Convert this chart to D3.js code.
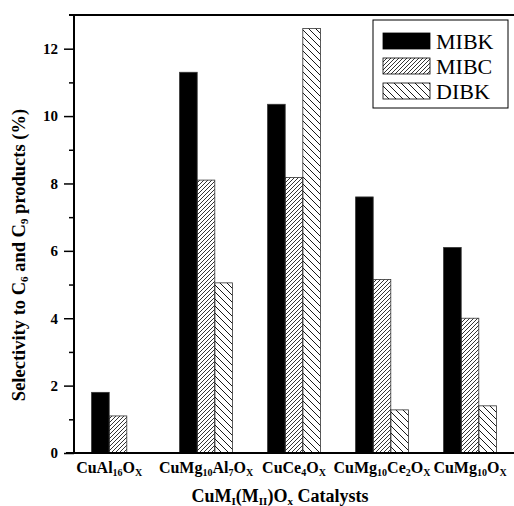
<!DOCTYPE html>
<html lang="en">
<head>
    <meta charset="UTF-8">
    <title>Selectivity to C6 and C9 products</title>
    <script src="https://d3js.org/d3.v7.min.js"></script>
    <style>
        body { margin: 0; background: #fff; }
    </style>
</head>
<body>
    <div id="chart"></div>
    <script>
        // catalysts: [text, kind] pieces for each label
        const catalysts = [
            [["CuAl", ""], ["16", "sub"], ["O", ""], ["X", "sub"]],
            [["CuMg", ""], ["10", "sub"], ["Al", ""], ["7", "sub"], ["O", ""], ["X", "sub"]],
            [["CuCe", ""], ["4", "sub"], ["O", ""], ["X", "sub"]],
            [["CuMg", ""], ["10", "sub"], ["Ce", ""], ["2", "sub"], ["O", ""], ["X", "sub"]],
            [["CuMg", ""], ["10", "sub"], ["O", ""], ["X", "sub"]]
        ];
        const series = ["MIBK", "MIBC", "DIBK"];
        const mibk = [1.8, 11.3, 10.35, 7.6, 6.1];
        const mibc = [1.1, 8.1, 8.18, 5.15, 4.0];
        const dibk = [0, 5.05, 12.6, 1.28, 1.4];
        const yTicks = [0, 2, 4, 6, 8, 10, 12];

        const values = [mibk, mibc, dibk];
        const width = 514, height = 506;
        const margin = { top: 15, right: 0, bottom: 53, left: 74 };
        const serif = "'Liberation Serif', 'Times New Roman', Times, serif";

        const svg = d3.select("#chart").append("svg")
            .attr("width", width)
            .attr("height", height)
            .style("font-family", serif);

        // hatch patterns
        const defs = svg.append("defs");
        defs.append("pattern")
            .attr("id", "hatch-mibc")
            .attr("patternUnits", "userSpaceOnUse")
            .attr("width", 4).attr("height", 4)
            .append("path")
            .attr("d", "M-1,1 L1,-1 M0,4 L4,0 M3,5 L5,3")
            .attr("stroke", "#000").attr("stroke-width", 0.8);
        defs.append("pattern")
            .attr("id", "hatch-dibk")
            .attr("patternUnits", "userSpaceOnUse")
            .attr("width", 7).attr("height", 7)
            .append("path")
            .attr("d", "M-1,6 L1,8 M0,0 L7,7 M6,-1 L8,1")
            .attr("stroke", "#000").attr("stroke-width", 0.9);

        const fills = { MIBK: "#000", MIBC: "url(#hatch-mibc)", DIBK: "url(#hatch-dibk)" };

        const x0 = d3.scaleBand()
            .domain(d3.range(catalysts.length))
            .range([margin.left, width - margin.right])
            .paddingInner(0.4)
            .paddingOuter(0.2);

        const x1 = d3.scaleBand()
            .domain(series)
            .range([0, x0.bandwidth()]);

        const y = d3.scaleLinear()
            .domain([0, 13])
            .range([height - margin.bottom, margin.top]);

        // bars
        series.forEach((s, si) => {
            svg.append("g").selectAll("rect")
                .data(values[si].map((v, i) => ({ i, v })).filter(d => d.v > 0))
                .join("rect")
                .attr("x", d => x0(d.i) + x1(s))
                .attr("y", d => y(d.v))
                .attr("width", x1.bandwidth())
                .attr("height", d => y(0) - y(d.v))
                .attr("fill", fills[s])
                .attr("stroke", "#333")
                .attr("stroke-width", 0.8);
        });

        // y axis
        const yAxis = svg.append("g")
            .attr("transform", `translate(${margin.left},0)`)
            .call(d3.axisLeft(y).tickValues(yTicks).tickSize(10).tickPadding(6).tickFormat(d3.format("d")));
        yAxis.attr("font-family", null).attr("font-size", null);
        yAxis.select(".domain").remove();
        yAxis.selectAll(".tick line").attr("stroke-width", 1.5);
        yAxis.selectAll(".tick text")
            .style("font-family", serif)
            .style("font-size", "15px")
            .style("font-weight", "bold");

        const yMinor = svg.append("g")
            .attr("transform", `translate(${margin.left},0)`)
            .call(d3.axisLeft(y).tickValues(d3.range(1, 13, 2)).tickSize(5).tickFormat(""));
        yMinor.select(".domain").remove();
        yMinor.selectAll(".tick line").attr("stroke-width", 1.5);

        // frame lines
        svg.append("line")
            .attr("x1", margin.left).attr("x2", margin.left)
            .attr("y1", y(13)).attr("y2", y(0))
            .attr("stroke", "#000").attr("stroke-width", 2);
        svg.append("line")
            .attr("x1", margin.left - 5).attr("x2", width)
            .attr("y1", y(13)).attr("y2", y(13))
            .attr("stroke", "#000").attr("stroke-width", 2);
        svg.append("line")
            .attr("x1", margin.left - 8).attr("x2", width)
            .attr("y1", y(0)).attr("y2", y(0))
            .attr("stroke", "#000").attr("stroke-width", 2);

        // x category labels, centred over the bars that are drawn
        catalysts.forEach((parts, i) => {
            const drawn = series.filter((s, si) => values[si][i] > 0);
            const cx = d3.mean(drawn, s => x0(i) + x1(s) + x1.bandwidth() / 2);
            const t = svg.append("text")
                .attr("x", cx)
                .attr("y", y(0) + 20)
                .attr("text-anchor", "middle")
                .style("font-family", serif)
                .style("font-size", "16px")
                .style("font-weight", "bold");
            let prev = "";
            parts.forEach(([txt, kind]) => {
                const ts = t.append("tspan").text(txt);
                if (kind === "sub") ts.style("font-size", "10px").attr("dy", prev === "sub" ? 0 : 3);
                else ts.attr("dy", prev === "sub" ? -3 : 0);
                prev = kind;
            });
        });

        // x axis title
        const xt = svg.append("text")
            .attr("x", 280)
            .attr("y", height - 4)
            .attr("text-anchor", "middle")
            .style("font-family", serif)
            .style("font-size", "18px")
            .style("font-weight", "bold");
        xt.append("tspan").text("CuM");
        xt.append("tspan").text("I").style("font-size", "11px").attr("dy", 3);
        xt.append("tspan").text("(M").attr("dy", -3);
        xt.append("tspan").text("II").style("font-size", "11px").attr("dy", 3);
        xt.append("tspan").text(")O").attr("dy", -3);
        xt.append("tspan").text("x").style("font-size", "11px").attr("dy", 3);
        xt.append("tspan").text(" Catalysts").attr("dy", -3);

        // y axis title
        const yt = svg.append("text")
            .attr("transform", `translate(25,${(y(0) + y(13)) / 2 + 21}) rotate(-90)`)
            .attr("text-anchor", "middle")
            .style("font-family", serif)
            .style("font-size", "18.5px")
            .style("font-weight", "bold");
        yt.append("tspan").text("Selectivity to C");
        yt.append("tspan").text("6").style("font-size", "11px").attr("dy", 3);
        yt.append("tspan").text(" and C").attr("dy", -3);
        yt.append("tspan").text("9").style("font-size", "11px").attr("dy", 3);
        yt.append("tspan").text(" products (%)").attr("dy", -3);

        // legend
        const legend = svg.append("g").attr("transform", "translate(373,20)");
        legend.append("rect")
            .attr("width", 135).attr("height", 88)
            .attr("fill", "#fff").attr("stroke", "#000").attr("stroke-width", 1);
        series.forEach((s, i) => {
            legend.append("rect")
                .attr("x", 10).attr("y", 13 + i * 25)
                .attr("width", 47).attr("height", 16)
                .attr("fill", fills[s])
                .attr("stroke", "#000").attr("stroke-width", 0.8);
            legend.append("text")
                .attr("x", 63).attr("y", 29 + i * 25)
                .style("font-family", serif)
                .style("font-size", "22px")
                .text(s);
        });
    </script>
</body>
</html>
